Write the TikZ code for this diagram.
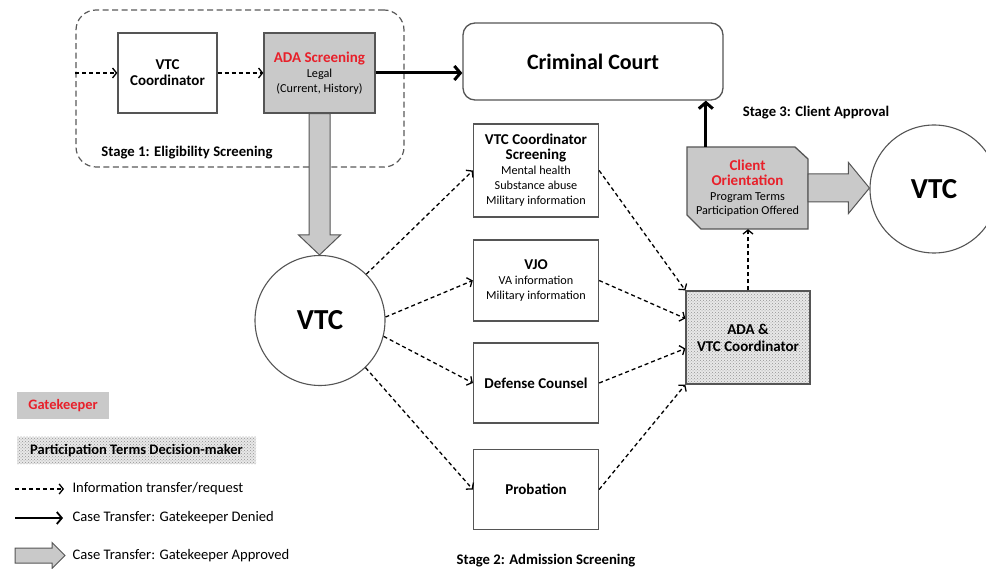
\documentclass[tikz,border=0pt]{standalone}
\usepackage{fontspec}
\setmainfont{Carlito}
\usetikzlibrary{arrows.meta,calc,patterns}
\definecolor{gk}{RGB}{201,201,201}
\definecolor{redt}{RGB}{232,32,42}
\definecolor{edgec}{RGB}{85,85,85}
\newcommand\myhd[1]{{\fontsize{15}{16}\selectfont\bfseries #1}}
\newcommand\myrd[1]{{\fontsize{15}{16}\selectfont\bfseries\color{redt}#1}}
\begin{document}
\begin{tikzpicture}[x=1pt,y=-1pt,
  box/.style={draw=edgec, line width=1.3pt, fill=white, align=center, inner sep=2pt,
    font=\fontsize{12.2}{15}\selectfont},
  gate/.style={box, fill=gk},
  dm/.style={box, preaction={fill=gray!18}, pattern=crosshatch dots, pattern color=gray!85},
  info/.style={dash pattern=on 4pt off 3pt, line width=1.3pt, -{Straight Barb[length=4pt,width=10pt]}},
  deny/.style={line width=3pt, -{Straight Barb[length=6pt,width=14pt]}},
  approve/.style={draw=edgec, line width=1pt, fill=gk, line join=miter},
  ttl/.style={font=\fontsize{14.7}{17}\selectfont\bfseries},
  lgd/.style={anchor=west, font=\fontsize{14.6}{17}\selectfont},
  big/.style={draw=edgec, line width=1.1pt, circle, fill=white, font=\fontsize{29}{34}\selectfont\bfseries}
]
\useasboundingbox (0,0) rectangle (986,569);

% Stage 1 frame
\node[draw=gray!70!black, line width=1.2pt, dash pattern=on 6pt off 3.5pt, rounded corners=20pt,
  minimum width=328pt, minimum height=157pt] (stage1) at (240,88.5) {};
\node[ttl] (st1) at (187,153) {Stage 1: Eligibility Screening};

\node[box, minimum width=99pt, minimum height=80pt] (coord) at (167.5,73)
  {\myhd{VTC}\\[1pt]\myhd{Coordinator}};
\node[gate, minimum width=111pt, minimum height=80pt] (adas) at (319.5,73)
  {\myrd{ADA Screening}\\Legal\\(Current, History)};

\node[box, rounded corners=12pt, minimum width=260pt, minimum height=77pt,
  font=\fontsize{22}{26}\selectfont\bfseries] (court) at (593,61.5) {Criminal Court};

% VTC circles
\node[big, minimum size=130pt] (vtcL) at (320,320.5) {VTC};
\node[big, minimum size=128pt] (vtcR) at (934,189) {VTC};

% Stage 2 boxes
\node[box, minimum width=125pt, minimum height=93pt] (s1) at (536,170.5)
  {\myhd{VTC Coordinator}\\\myhd{Screening}\\Mental health\\Substance abuse\\Military information};
\node[box, minimum width=125pt, minimum height=81pt] (vjo) at (536,280.5)
  {\myhd{VJO}\\VA information\\Military information};
\node[box, minimum width=125pt, minimum height=80pt] (def) at (536,383)
  {\myhd{Defense Counsel}};
\node[box, minimum width=125pt, minimum height=80pt] (prob) at (536,489.5)
  {\myhd{Probation}};
\node[ttl] (st2) at (546,561) {Stage 2: Admission Screening};

\node[dm, minimum width=124pt, minimum height=93pt] (adavtc) at (748,337.5)
  {\myhd{ADA \&}\\[2pt]\myhd{VTC Coordinator}};

% Client orientation (chamfered)
\fill[gk] (687,147) -- (795,147) -- (808,159) -- (808,229) -- (701,229) -- (687,215) -- cycle;
\draw[edgec, line width=1.3pt] (687,147) -- (795,147) -- (808,159) -- (808,229) -- (701,229) -- (687,215) -- cycle;
\node[align=center, inner sep=0pt, minimum width=121pt, minimum height=82pt,
  font=\fontsize{12.2}{14.5}\selectfont] (client) at (747.5,188)
  {\myrd{Client}\\[1pt]\myrd{Orientation}\\Program Terms\\Participation Offered};
\node[ttl] (st3) at (816,113) {Stage 3: Client Approval};

% Stage 1 connectors
\draw[info] (coord.west -| stage1.west) -- (coord.west);
\draw[info] (coord.east) -- (adas.west);
\draw[deny] (adas.east) -- (adas.east -| court.west);

% big approve arrow down
\coordinate (dtip) at (adas.south |- vtcL.north);
\draw[approve] ($(adas.south)+(-10.5,0)$) -- ($(dtip)+(-10.5,-20)$) -- ($(dtip)+(-21,-20)$)
  -- (dtip) -- ($(dtip)+(21,-20)$) -- ($(dtip)+(10.5,-20)$) -- ($(adas.south)+(10.5,0)$) -- cycle;

% VTC -> stage 2 boxes
\draw[info] (vtcL.45) -- (s1.west);
\draw[info] (vtcL.3) -- (vjo.west);
\draw[info] (vtcL.-14) -- (def.west);
\draw[info] (vtcL.-46) -- (prob.west);

% stage 2 boxes -> ADA & VTC coordinator
\draw[info] (s1.east) -- (adavtc.north west);
\draw[info] (vjo.east) -- ($(adavtc.west)+(0,-19)$);
\draw[info] (def.east) -- ($(adavtc.west)+(0,11)$);
\draw[info] (prob.east) -- (adavtc.south west);

% ADA & VTC -> client orientation
\draw[info] (adavtc.north) -- (adavtc.north |- client.south);

% client -> court (denied)
\coordinate (cup) at ($(client.north west)+(19,0)$);
\draw[deny] (cup) -- (cup |- court.south);

% client -> VTC (approved)
\coordinate (rtip) at (vtcR.west |- client.east);
\draw[approve] ($(client.east)+(0,-14)$) -- ($(rtip)+(-21,-14)$) -- ($(rtip)+(-21,-25.5)$)
  -- (rtip) -- ($(rtip)+(-21,25.5)$) -- ($(rtip)+(-21,14)$) -- ($(client.east)+(0,14)$) -- cycle;

% Legend
\node[fill=gk, minimum width=92pt, minimum height=27pt, inner sep=0pt,
  font=\fontsize{14.4}{16}\selectfont\bfseries\color{redt}] (lg1) at (63,405.5) {Gatekeeper};
\node[preaction={fill=gray!18}, pattern=crosshatch dots, pattern color=gray!85,
  minimum width=239pt, minimum height=27pt, inner sep=0pt,
  font=\fontsize{14.5}{16}\selectfont\bfseries] (lg2) at (136.5,450.5) {Participation Terms Decision-maker};

\coordinate (la1) at (15,489);
\coordinate (lb1) at (64,489);
\draw[info] (la1) -- (lb1);
\node[lgd] (lt1) at (69,489) {Information transfer/request};

\coordinate (la2) at (15,518);
\coordinate (lb2) at (63,518);
\draw[line width=1.8pt, -{Straight Barb[length=5pt,width=12pt]}] (la2) -- (lb2);
\node[lgd] (lt2) at (69,518) {Case Transfer: Gatekeeper Denied};

\coordinate (la3) at (15,555.5);
\coordinate (lb3) at (65,555.5);
\draw[approve] ($(la3)+(0,-7.5)$) -- ($(lb3)+(-13,-7.5)$) -- ($(lb3)+(-13,-13)$) -- (lb3)
  -- ($(lb3)+(-13,13)$) -- ($(lb3)+(-13,7.5)$) -- ($(la3)+(0,7.5)$) -- cycle;
\node[lgd] (lt3) at (69,556) {Case Transfer: Gatekeeper Approved};
\end{tikzpicture}
\end{document}
